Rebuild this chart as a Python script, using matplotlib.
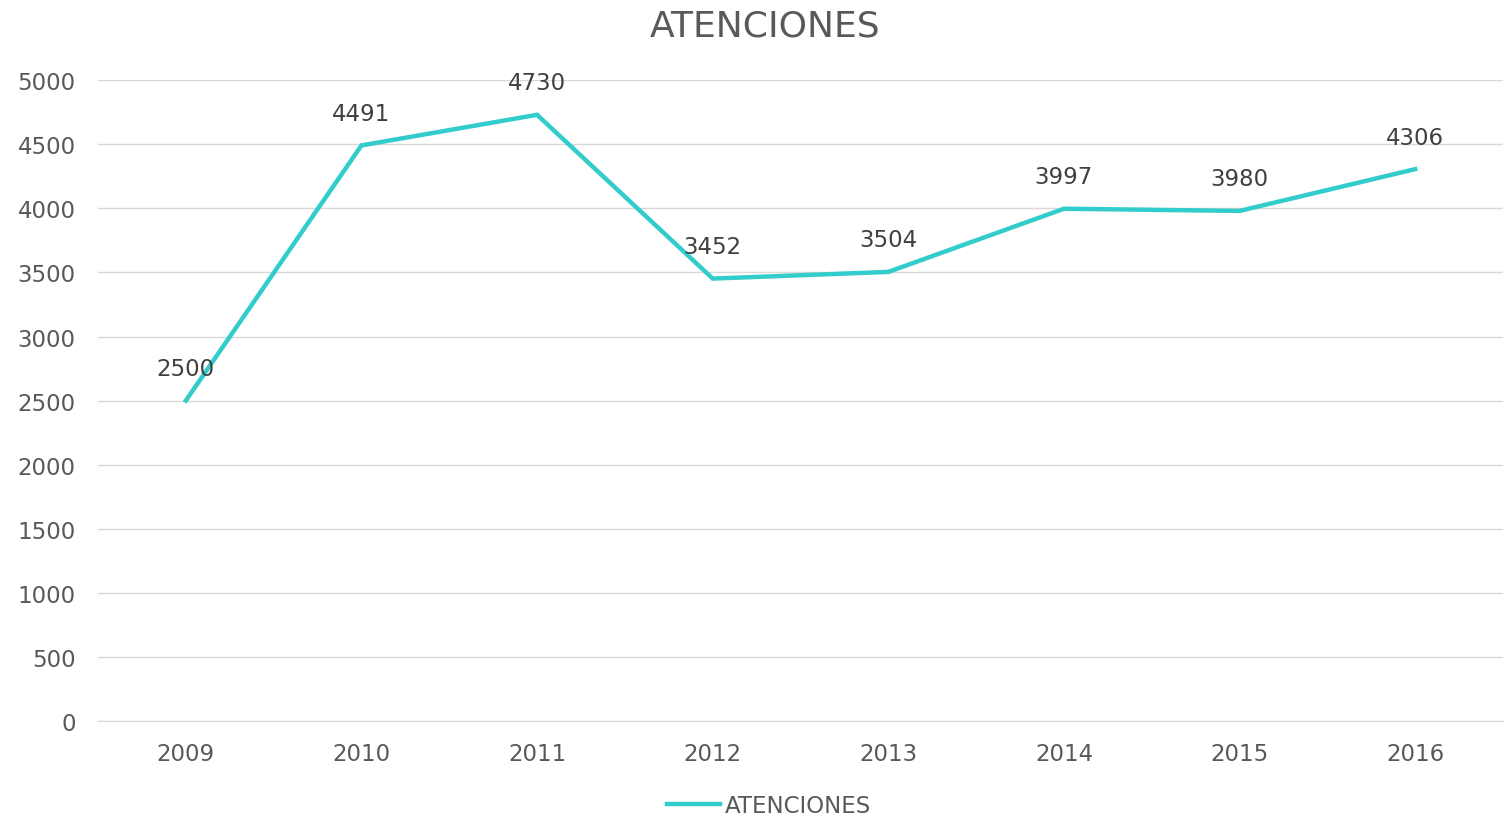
import matplotlib.pyplot as plt

years = ['2009', '2010', '2011', '2012', '2013', '2014', '2015', '2016']
atenciones = [2500, 4491, 4730, 3452, 3504, 3997, 3980, 4306]

line_color = '#33CCCC'
text_color = '#595959'
grid_color = '#D9D9D9'

plt.rcParams['font.family'] = ['DejaVu Sans']

fig = plt.figure(figsize=(15.08, 8.2), dpi=100)
ax = fig.add_axes([0.065, 0.1195, 0.9317, 0.7815])

x = list(range(len(years)))
ax.plot(x, atenciones, color=line_color, linewidth=3.2, label='ATENCIONES',
        solid_joinstyle='miter')

for xi, v in zip(x, atenciones):
    ax.annotate(str(v), (xi, v), xytext=(0, 23), textcoords='offset points',
                ha='center', va='center', fontsize=16.5, color='#404040')

ax.set_xlim(-0.5, len(years) - 0.5)
ax.set_ylim(0, 5000)
ax.set_yticks(range(0, 5001, 500))
ax.set_xticks(x)
ax.set_xticklabels(years)
ax.tick_params(axis='both', length=0, labelsize=16.5, colors=text_color)
ax.tick_params(axis='x', pad=15)
ax.tick_params(axis='y', pad=16)
ax.grid(axis='y', color=grid_color, linewidth=1)
ax.set_axisbelow(True)
for s in ['top', 'right', 'left']:
    ax.spines[s].set_visible(False)
ax.spines['bottom'].set_color(grid_color)

fig.text(0.507, 0.968, 'ATENCIONES', ha='center', va='center',
         fontsize=26, color=text_color)

fig.legend(loc='center', bbox_to_anchor=(0.51, 0.016), frameon=False,
           fontsize=16.5, labelcolor=text_color, handlelength=2.3,
           handletextpad=0.2)

fig.savefig('out.png', dpi=100, facecolor='white')
